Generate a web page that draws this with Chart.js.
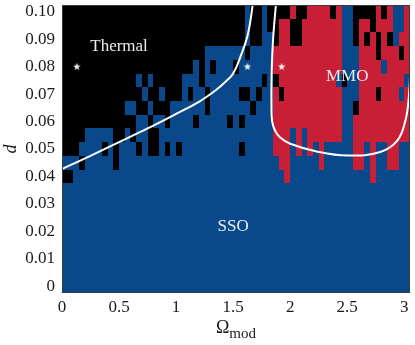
<!DOCTYPE html>
<html>
<head>
<meta charset="utf-8">
<script src="https://cdn.jsdelivr.net/npm/chart.js@4.4.1/dist/chart.umd.min.js"></script>
<style>
  html, body { margin: 0; padding: 0; background: #fff; }
  #wrap { width: 415px; height: 345px; }
</style>
</head>
<body>
<div id="wrap"><canvas id="phase"></canvas></div>
<script>
// grid of the scan: Omega_mod columns and d rows
const omegaStep = 0.05;
const dStep = 0.005;
const dTop = 0.1;          // d of the first row below
const omegaTicks = [0, 0.5, 1, 1.5, 2, 2.5, 3];
const dTicks = [0, 0.01, 0.02, 0.03, 0.04, 0.05, 0.06, 0.07, 0.08, 0.09, 0.1];

// K = thermal, B = SSO, R = MMO ; one string per d row, from d = 0.100 down to 0.040
// everything below d = 0.040 is SSO
const regimeRows = [
  'KKKKKKKKKK KKKKKKKKKK KKKKKKKKKK KKBKKBKKKK RKKRRRRKRB BKKKKRKRBB R',
  'KKKKKKKKKK KKKKKKKKKK KKKKKKKKKK KKBKKBKKRR KKRRRRRRRB BKRRKRRRBB R',
  'KKKKKKKKKK KKKKKKKKKK KKKKKKKKKK KKBKKBBKRR KKRRRRRRRB BKRKRKRKBR R',
  'KKKKKKKKKK KKKKKKKKKK KKKKKBBBBB BBKBBBBRRR RRRRRRRRRB BBRRRKRRRK R',
  'KKKKKKKKKK KKKKKKKKKK KKKBKBKBBB KBBBBBBRRR RRRRRRRRRB BBRRRRBRRR R',
  'KKKKKKKKKK KKKBKBKKKK KBBBKBBBBB BBBBBKBKRR RRRRRRRRBK BBRRRRRRRR B',
  'KKKKKKKKKK KKKKBKKBKK KBKBBKBBBB BKKBKBBRKR RRRRRRRRRB BBRRRKRRRB R',
  'KKKKKKKKKK KBBKKBKKKB BBBBBKBBBB BBBKBBBRRR RRRRRRRRRB BKRRRRRRRR R',
  'KKKKKKKKKK KKKBBKBBKB BBBKBBBBBK BKBBBBBRRR RRRRRRRRRB BRRRRRRRRR R',
  'KKKKBBBBBK KBKBBKKBBB BBBBBBBBBB BBBBBBBRRR BRBRRRRRRB BRRRRRRRRR R',
  'KKKBBBBKBK BBBKBKKBKB KBBBBBBBBB BKBBBBBRRR BRBRBRBBBB BRRBRBBRRB B',
  'BBBKBBBBBK BBBBBBBBBB BBBBBBBBBB BBBBBBBBRR BBBBBRBBBB BRRBRBBRRB B',
  'KKBBBBBBBB BBBBBBBBBB BBBBBBBBBB BBBBBBBBBR BBBBBBBBBB BBBBRBBBBB B'
].map(r => r.replace(/ /g, ''));

const regimeColors = { K: '#000000', B: '#08488b', R: '#c81f37' };

// white boundaries
const thermalEdgeOmega = [0, 0.25, 0.5, 0.75, 1.0, 1.2, 1.35, 1.44, 1.5, 1.57, 1.63, 1.68];
const thermalEdgeD     = [0.0427, 0.0475, 0.0525, 0.0575, 0.0628, 0.0672, 0.0715, 0.0748, 0.0775, 0.0843, 0.092, 0.105];
const mmoEdgeOmega = [1.88, 1.851, 1.838, 1.836, 1.842, 1.87, 1.91, 2.0, 2.25, 2.5, 2.79, 2.94, 3.01, 3.04, 3.055];
const mmoEdgeD     = [0.105, 0.0907, 0.0785, 0.0664, 0.06, 0.0565, 0.0543, 0.0519, 0.0489, 0.0476, 0.0489, 0.0531, 0.0604, 0.0689, 0.082];

// sample points (stars)
const starOmega = [0.13, 1.625, 1.925];
const starD = [0.08, 0.08, 0.08];

// region names
const regionNames = ['Thermal', 'SSO', 'MMO'];
const regionOmega = [0.5, 1.5, 2.5];
const regionD = [0.0872, 0.0218, 0.0766];

const serif = '"Liberation Serif", "DejaVu Serif", serif';

function toPoints(xs, ys) {
  return xs.map((v, i) => ({ x: v, y: ys[i] }));
}

function makeStar(size, fill) {
  const c = document.createElement('canvas');
  c.width = c.height = size;
  const g = c.getContext('2d');
  g.fillStyle = fill;
  g.beginPath();
  for (let i = 0; i < 10; i++) {
    const r = i % 2 ? size * 0.21 : size / 2;
    const a = -Math.PI / 2 + i * Math.PI / 5;
    g.lineTo(size / 2 + r * Math.cos(a), size / 2 + r * Math.sin(a));
  }
  g.closePath();
  g.fill();
  return c;
}

const phaseMap = {
  id: 'phaseMap',
  beforeDatasetsDraw(chart) {
    const { ctx, chartArea, scales: { x, y } } = chart;
    ctx.save();
    ctx.beginPath();
    ctx.rect(chartArea.left, chartArea.top, chartArea.width, chartArea.height);
    ctx.clip();

    regimeRows.forEach((row, i) => {
      const d = dTop - i * dStep;
      const yTop = Math.round(y.getPixelForValue(d + dStep / 2));
      const yBot = Math.round(y.getPixelForValue(d - dStep / 2));
      for (let k = 0; k < row.length; k++) {
        const x0 = Math.round(x.getPixelForValue(k * omegaStep));
        const x1 = Math.round(x.getPixelForValue((k + 1) * omegaStep));
        ctx.fillStyle = regimeColors[row[k]];
        ctx.fillRect(x0, yTop, x1 - x0, yBot - yTop);
      }
    });

    // the rest below is all SSO
    const dLast = dTop - (regimeRows.length - 1) * dStep;
    const yStart = Math.round(y.getPixelForValue(dLast - dStep / 2));
    ctx.fillStyle = regimeColors.B;
    ctx.fillRect(chartArea.left, yStart, chartArea.width, chartArea.bottom - yStart);
    ctx.restore();
  },
  afterDatasetsDraw(chart) {
    const { ctx, scales: { x, y } } = chart;
    ctx.save();
    ctx.font = '17px ' + serif;
    ctx.fillStyle = '#ececec';
    ctx.textAlign = 'center';
    ctx.textBaseline = 'middle';
    regionNames.forEach((name, i) => {
      ctx.fillText(name, x.getPixelForValue(regionOmega[i]), y.getPixelForValue(regionD[i]));
    });
    ctx.restore();
  },
  afterDraw(chart) {
    const { ctx, chartArea } = chart;
    ctx.save();
    ctx.strokeStyle = '#3a3a3a';
    ctx.lineWidth = 1;
    ctx.strokeRect(chartArea.left + 0.5, chartArea.top + 0.5, chartArea.width - 1, chartArea.height - 1);

    // x axis title: Omega with subscript "mod"
    ctx.fillStyle = '#1a1a1a';
    ctx.textBaseline = 'alphabetic';
    ctx.font = '18px ' + serif;
    const w1 = ctx.measureText('Ω').width;
    ctx.font = '15px ' + serif;
    const w2 = ctx.measureText('mod').width;
    const cx = (chartArea.left + chartArea.right) / 2;
    const x0 = cx - (w1 + w2) / 2;
    const base = chartArea.bottom + 40;
    ctx.font = '18px ' + serif;
    ctx.fillText('Ω', x0, base);
    ctx.font = '15px ' + serif;
    ctx.fillText('mod', x0 + w1, base + 5);
    ctx.restore();
  }
};

const ctx = document.getElementById('phase').getContext('2d');
new Chart(ctx, {
  type: 'scatter',
  data: {
    datasets: [
      {
        label: 'thermal boundary',
        data: toPoints(thermalEdgeOmega, thermalEdgeD),
        showLine: true,
        borderColor: '#ffffff',
        borderWidth: 2,
        pointRadius: 0,
        tension: 0.4,
        clip: 0
      },
      {
        label: 'MMO boundary',
        data: toPoints(mmoEdgeOmega, mmoEdgeD),
        showLine: true,
        borderColor: '#ffffff',
        borderWidth: 2,
        pointRadius: 0,
        tension: 0.4,
        clip: 0
      },
      {
        label: 'samples',
        data: toPoints(starOmega, starD),
        pointStyle: makeStar(8, '#f2f2f2'),
        pointRadius: 4,
        clip: 0
      }
    ]
  },
  options: {
    responsive: true,
    maintainAspectRatio: false,
    animation: false,
    devicePixelRatio: 1,
    layout: { padding: { top: 4, right: 4, left: 0, bottom: 0 } },
    plugins: {
      legend: { display: false },
      tooltip: { enabled: false }
    },
    scales: {
      x: {
        type: 'linear',
        min: 0,
        max: 3.05,
        grid: { display: false, drawTicks: false },
        border: { display: false },
        afterBuildTicks: (scale) => { scale.ticks = omegaTicks.map(v => ({ value: v })); },
        afterFit: (scale) => {
          scale.height = 52;
          scale.paddingLeft = 0;
          scale.paddingRight = 0;
        },
        ticks: {
          padding: 4,
          maxRotation: 0,
          color: '#1a1a1a',
          font: { family: serif, size: 17 },
          callback: (v) => String(v)
        }
      },
      y: {
        type: 'linear',
        min: -0.0025,
        max: 0.1025,
        grid: { display: false, drawTicks: false },
        border: { display: false },
        afterBuildTicks: (scale) => { scale.ticks = dTicks.map(v => ({ value: v })); },
        afterFit: (scale) => {
          scale.width = 62;
          scale.paddingTop = 0;
          scale.paddingBottom = 0;
        },
        title: {
          display: true,
          text: 'd',
          color: '#1a1a1a',
          padding: 0,
          font: { family: serif, size: 18, style: 'italic' }
        },
        ticks: {
          padding: 7,
          color: '#1a1a1a',
          font: { family: serif, size: 17 },
          callback: (v) => (v === 0 ? '0' : v.toFixed(2))
        }
      }
    }
  },
  plugins: [phaseMap]
});
</script>
</body>
</html>
